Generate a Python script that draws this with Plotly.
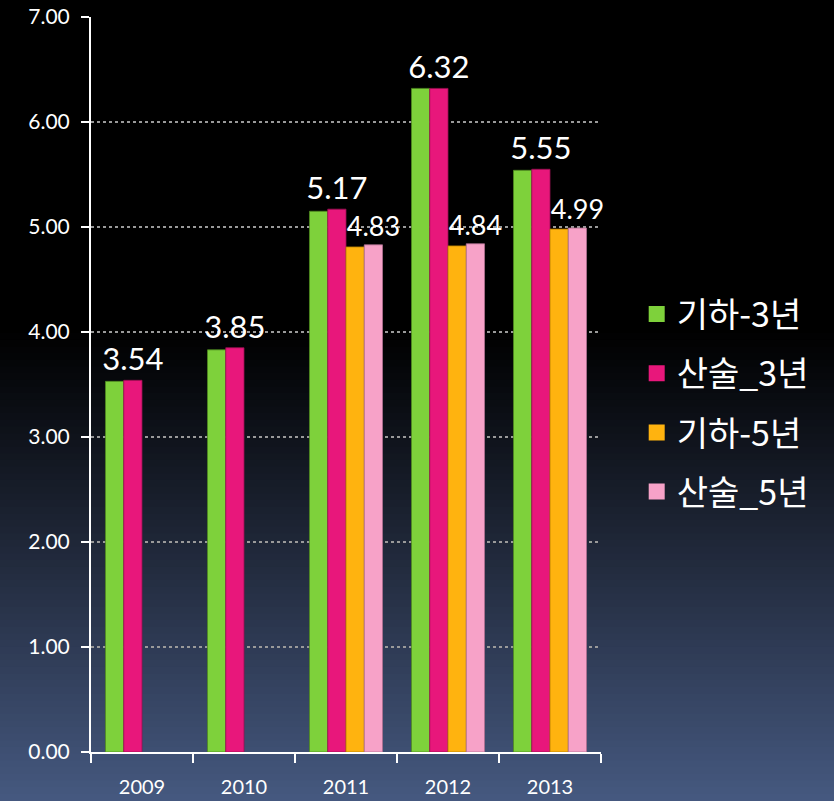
import plotly.graph_objects as go

years = ["2009", "2010", "2011", "2012", "2013"]
series_names = ["기하-3년", "산술_3년", "기하-5년", "산술_5년"]
geo3 = [3.53, 3.83, 5.15, 6.32, 5.54]
ari3 = [3.54, 3.85, 5.17, 6.32, 5.55]
geo5 = [None, None, 4.81, 4.82, 4.98]
ari5 = [None, None, 4.83, 4.84, 4.99]
colors = ["#7ed13b", "#e8177b", "#ffb30f", "#f7a2c8"]
edge_colors = ["#4f8a20", "#9a0f50", "#b57d00", "#b07090"]
y_ticks = [0, 1, 2, 3, 4, 5, 6, 7]

W, H = 834, 801
ML, MR, MT, MB = 91, 233, 17, 49
plot_h = H - MT - MB

fig = go.Figure()
values = [geo3, ari3, geo5, ari5]
label_sizes = [None, 31, None, 27]
for i, (name, vals) in enumerate(zip(series_names, values)):
    kw = {}
    if label_sizes[i]:
        kw = dict(
            texttemplate="%{y:.2f}",
            textposition="outside",
            textfont=dict(color="white", size=label_sizes[i], family="Lato, Noto Sans"),
            constraintext="none", cliponaxis=False,
        )
    fig.add_trace(go.Bar(
        x=years, y=vals, name=name,
        marker=dict(color=colors[i], line=dict(color=edge_colors[i], width=0.8)),
        showlegend=False, hoverinfo="skip", **kw,
    ))
# legend entries
for i, name in enumerate(series_names):
    fig.add_trace(go.Scatter(
        x=[None], y=[None], mode="markers", name=name, legendgroup=f"g{i}",
        marker=dict(symbol="square", size=20, color=colors[i]),
    ))

# gradient background
shapes = []
N = 120
top_c = (0, 0, 0)
bot_c = (70, 89, 128)
start = 330
for k in range(N):
    y0px = H * k / N
    y1px = H * (k + 1) / N
    mid = (y0px + y1px) / 2
    f = max(0.0, (mid - start) / (H - start))
    f = f ** 1.05
    c = tuple(int(round(top_c[j] + (bot_c[j] - top_c[j]) * f)) for j in range(3))
    shapes.append(dict(
        type="rect", xref="paper", yref="paper",
        x0=-1, x1=2,
        y0=(H - MB - y1px) / plot_h - 0.001, y1=(H - MB - y0px) / plot_h + 0.001,
        fillcolor=f"rgb{c}", line=dict(width=0), layer="below",
    ))

fig.update_layout(
    width=W, height=H,
    margin=dict(l=ML, r=MR, t=MT, b=MB, autoexpand=False),
    paper_bgcolor="black",
    plot_bgcolor="rgba(0,0,0,0)",
    barmode="group", bargap=0.284, bargroupgap=0,
    shapes=shapes,
    font=dict(family="Noto Sans CJK KR", color="white"),
    legend=dict(
        x=1.07, y=0.475, xanchor="left", yanchor="middle",
        font=dict(size=34, color="white", family="Noto Sans CJK KR"),
        tracegroupgap=12, bgcolor="rgba(0,0,0,0)", itemsizing="trace",
    ),
    xaxis=dict(
        automargin=False,
        showline=True, linecolor="white", linewidth=2,
        ticks="outside", tickson="boundaries", ticklen=9, tickwidth=2, tickcolor="white",
        tickfont=dict(size=20, color="white", family="Lato, Noto Sans"),
        ticklabelstandoff=16, showgrid=False,
    ),
    yaxis=dict(
        automargin=False,
        range=[0, 7], tickvals=y_ticks, tickformat=".2f",
        showline=True, linecolor="white", linewidth=2,
        ticks="outside", ticklen=8, tickwidth=2, tickcolor="white",
        tickfont=dict(size=21, color="white", family="Lato, Noto Sans"),
        showgrid=True, gridcolor="#9a9a9a", gridwidth=1.5, griddash="dot",
        zeroline=False, ticklabelstandoff=7,
    ),
)

fig.write_html("out.html")
